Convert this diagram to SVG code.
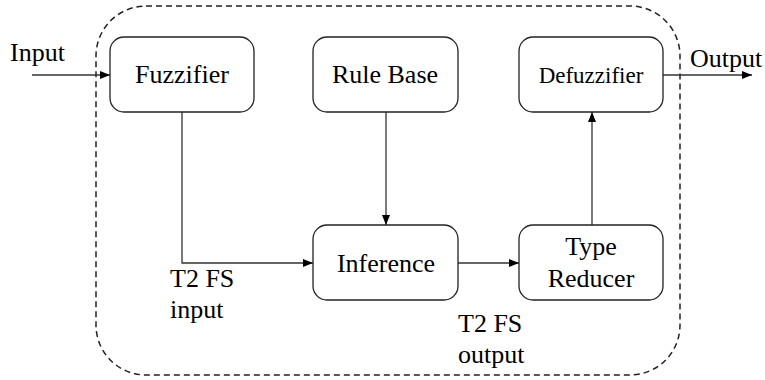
<svg xmlns="http://www.w3.org/2000/svg" width="765" height="380" viewBox="0 0 765 380">
<style>
.box{fill:#fff;stroke:#222;stroke-width:1.3}
.t{font-family:'Liberation Serif','Times New Roman',serif;font-size:26px;fill:#000}
.c{stroke:#333;stroke-width:1.3;fill:none}
</style>
<defs>
<marker id="a" viewBox="0 0 10 10" refX="10" refY="5" markerWidth="10" markerHeight="10" markerUnits="userSpaceOnUse" orient="auto">
<path d="M0,1 L10,5 L0,9 Z" fill="#000"/>
</marker>
</defs>
<rect id="boundary" x="96" y="6" width="584" height="369" rx="50" ry="50" fill="none" stroke="#222" stroke-width="1.5" stroke-dasharray="6,4"/>
<g id="connectors">
<line class="c" x1="32" y1="75" x2="110" y2="75" marker-end="url(#a)"/>
<line class="c" x1="663" y1="75" x2="752" y2="75" marker-end="url(#a)"/>
<polyline class="c" points="182,112 182,263 313,263" marker-end="url(#a)"/>
<line class="c" x1="386" y1="112" x2="386" y2="225" marker-end="url(#a)"/>
<line class="c" x1="458" y1="263" x2="519" y2="263" marker-end="url(#a)"/>
<line class="c" x1="592" y1="225" x2="592" y2="112" marker-end="url(#a)"/>
</g>
<g id="fuzzifier"><rect class="box" x="110" y="37" width="144" height="75" rx="14"/><text class="t" x="182" y="83" text-anchor="middle">Fuzzifier</text></g>
<g id="rulebase"><rect class="box" x="313" y="37" width="145" height="75" rx="14"/><text class="t" x="385" y="83" text-anchor="middle">Rule Base</text></g>
<g id="defuzzifier"><rect class="box" x="519" y="37" width="144" height="75" rx="14"/><text class="t" x="591" y="83" text-anchor="middle" style="font-size:23px">Defuzzifier</text></g>
<g id="inference"><rect class="box" x="313" y="225" width="145" height="75" rx="14"/><text class="t" x="386" y="272" text-anchor="middle">Inference</text></g>
<g id="typereducer"><rect class="box" x="519" y="225" width="144" height="75" rx="14"/><text class="t" x="591" y="255" text-anchor="middle">Type</text><text class="t" x="591" y="287" text-anchor="middle">Reducer</text></g>
<g id="labels">
<text class="t" x="10" y="61">Input</text>
<text class="t" x="690" y="67">Output</text>
<text class="t" x="170" y="287">T2 FS</text>
<text class="t" x="170" y="318">input</text>
<text class="t" x="458" y="332">T2 FS</text>
<text class="t" x="458" y="363">output</text>
</g>
</svg>
